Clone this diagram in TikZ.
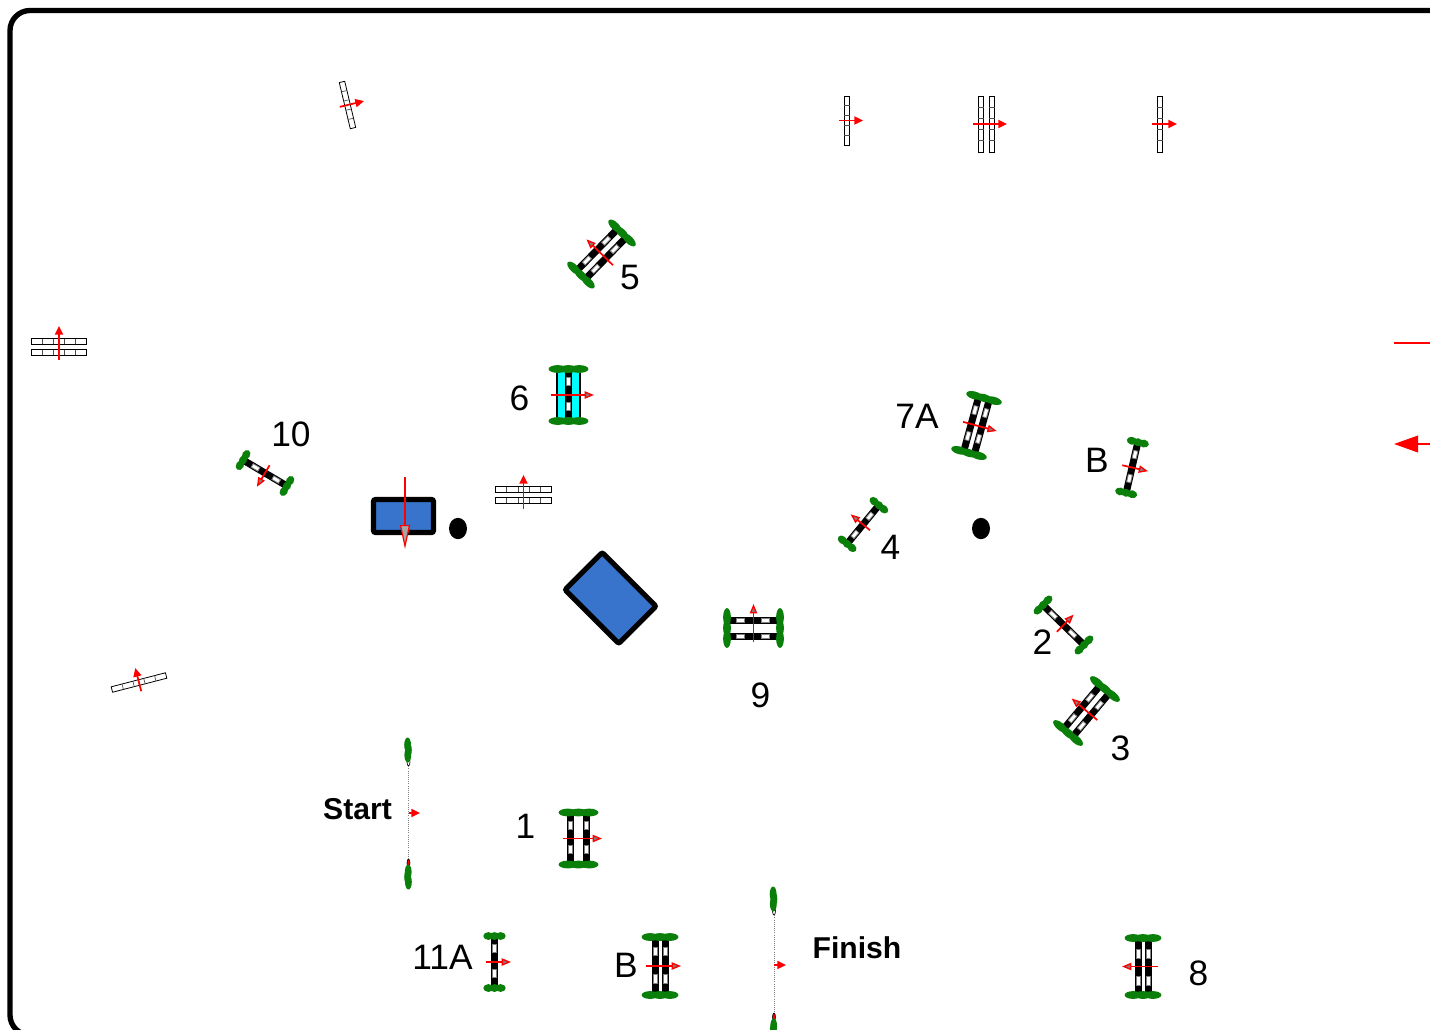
\documentclass[tikz,border=0pt]{standalone}
\usepackage{fontspec}
\setmainfont{Liberation Sans}
\usetikzlibrary{arrows.meta, shapes.geometric}
\definecolor{cwing}{HTML}{0A7F0A}
\definecolor{ctable}{HTML}{3874CB}
\definecolor{cred}{HTML}{FF0000}
\definecolor{ccyan}{HTML}{00FFFF}
\tikzset{
  every picture/.style={x=0.75pt, y=-0.75pt},
  numlabel/.style={font=\fontsize{26.5}{30}\selectfont, inner sep=0pt},
  gatelabel/.style={font=\fontsize{22.6}{26}\selectfont\bfseries, inner sep=0pt},
  dirarrow/.style={draw=cred, line width=1.3pt, -{Triangle[length=7pt, width=5.5pt, line width=1pt, fill=gray]}},
  plainarrow/.style={draw=cred, line width=1.3pt, -{Triangle[length=6.5pt, width=6pt, fill=cred]}},
  tablebox/.style={draw=black, fill=ctable, line width=3.9pt, rounded corners=1.5pt, minimum width=#1, inner sep=0pt},
  tunnelmark/.style={ellipse, fill=black, minimum width=13.5pt, minimum height=16pt, inner sep=0pt},
  postmark/.style={ellipse, draw=black, line width=.5pt, fill=#1, minimum width=2.2pt, minimum height=6pt, inner sep=0pt},
}
% one striped pole: offset, half length
\newcommand{\polebar}[2]{
  \fill[black] ({#1-3.5},{-#2}) rectangle ({#1+3.5},{#2});
  \draw[fill=white, draw=gray, line width=.6pt] ({#1-2},{-.62*#2}) rectangle ({#1+2},{-.32*#2});
  \draw[fill=white, draw=gray, line width=.6pt] ({#1-2},{.32*#2}) rectangle ({#1+2},{.62*#2});
}
% name, centre, rotation, half length, pole offsets, wing half width, arrow back, arrow front
\newcommand{\hurdle}[8]{
  \begin{scope}[shift={(#2)}, rotate=#3]
    \foreach \dx in {#5} {\polebar{\dx}{#4-1}}
    \foreach \wx in {-1,0,1} {
      \fill[cwing] ({\wx*.55*#6},{-#4}) ellipse ({.47*#6} and 3.9);
      \fill[cwing] ({\wx*.55*#6},{#4}) ellipse ({.47*#6} and 3.9);
    }
    \coordinate (#1-back) at (-#7,0);
    \coordinate (#1-front) at (#8,0);
    \draw[dirarrow] (#1-back) -- (#1-front);
  \end{scope}
}
% planned position: outlined pole only
\newcommand{\sketchbar}[7]{
  \begin{scope}[shift={(#2)}, rotate=#3]
    \foreach \dx in {#5} {
      \draw[black, line width=.6pt] ({\dx-2.8},{-#4}) rectangle ({\dx+2.8},{#4});
      \foreach \k in {-.6,-.2,.2,.6}
        \draw[black!70, line width=.5pt] ({\dx-2.8},{\k*#4}) -- ({\dx+2.8},{\k*#4});
    }
    \coordinate (#1-back) at (-#6,0);
    \coordinate (#1-front) at (#7,0);
    \draw[plainarrow] (#1-back) -- (#1-front);
  \end{scope}
}
% start and finish line: name, x, top post y, bottom post y
\newcommand{\gateline}[4]{
  \node[postmark=white] (#1-top) at (#2,#3) {};
  \node[postmark=cred] (#1-bot) at (#2,#4) {};
  \draw[gray, line width=.6pt, densely dotted] (#1-top) -- (#1-bot);
  \foreach \k/\s in {-1/-.4,0/.4,1/-.2} {
    \fill[cwing] ({#2-.5+\s},{#3-12+5*\k}) ellipse (3.4 and 7.5);
    \fill[cwing] ({#2-.5-\s},{#4+14-5*\k}) ellipse (3.4 and 7.5);
  }
}
\begin{document}
\begin{tikzpicture}
  \useasboundingbox (0,0) rectangle (1430,1029);
  \clip (0,0) rectangle (1430,1029);
  \draw[black, line width=4pt, rounded corners=15pt] (10,10.5) rectangle (1500,1035);

  % planned poles
  \sketchbar{plana}{347.5,105}{13.4}{23.7}{0}{8}{17}
  \sketchbar{planb}{847,120.5}{0}{24.5}{0}{8}{16}
  \sketchbar{planc}{986.5,124}{0}{28}{-5.5,5.5}{13.5}{20.5}
  \sketchbar{pland}{1160,124}{0}{28}{0}{8}{17}
  \sketchbar{plane}{59,347}{90}{27.5}{-5.5,5.5}{13}{21}
  \sketchbar{planf}{523.5,495}{90}{28}{-5.5,5.5}{14}{20}
  \sketchbar{plang}{139,682.5}{104.5}{28}{0}{9}{15}

  % numbered obstacles
  \hurdle{one}{578.5,838.5}{0}{26}{-8,8}{19.5}{15.5}{23.5}
  \hurdle{two}{1063.5,625}{45.7}{28.6}{0}{12}{9.5}{14.5}
  \hurdle{three}{1086.5,711}{140}{28.7}{-6,6}{18.5}{14}{19.5}
  \hurdle{four}{863,524.5}{140.6}{25}{0}{11}{9}{16}
  \hurdle{five}{601.5,254}{135.7}{29.4}{-6,6}{18}{16}{21}
  \fill[ccyan] (557,371) rectangle (580,419);
  \draw[black, line width=.8pt] (557,371) -- (557,419) (580,371) -- (580,419);
  \hurdle{six}{568.5,395}{0}{26}{0}{19.5}{17.5}{25.5}
  \hurdle{seven}{976.5,425.5}{-15.3}{28.5}{-5.5,5.5}{18}{14}{21}
  \hurdle{bup}{1132,467.5}{-13}{26}{0}{11}{10}{16.5}
  \hurdle{eight}{1143,966.5}{180}{28.5}{-5,5}{18}{15}{21}
  \hurdle{nine}{753.5,628}{90}{26.5}{-8,8}{19.5}{14}{24}
  \hurdle{ten}{265,473}{239.4}{25.5}{0}{11}{9}{16}
  \hurdle{eleven}{494.5,962}{0}{26}{0}{11}{8.5}{16.5}
  \hurdle{bdown}{660,966}{0}{29}{-5,5}{18}{14}{21}

  % tables and tunnel marks
  \node[tablebox=45pt, minimum height=24.75pt] (tablea) at (403.5,516) {};
  \node[tablebox=57pt, minimum height=39.5pt, rotate=-45] (tableb) at (610.5,598) {};
  \coordinate (tablea-back) at (405,477);
  \coordinate (tablea-front) at (405,549);
  \draw[draw=cred, line width=1.1pt, -{Triangle[length=18pt, width=7.5pt, line width=.9pt, fill=gray!70]}] (tablea-back) -- (tablea-front);
  \node[tunnelmark] (marka) at (458,528.5) {};
  \node[tunnelmark] (markb) at (981,528.5) {};

  % start and finish
  \gateline{start}{408.5}{762}{863}
  \coordinate (start-back) at (408.5,813);
  \coordinate (start-front) at (420,813);
  \draw[plainarrow] (start-back) -- (start-front);
  \gateline{finish}{774}{911}{1017}
  \coordinate (finish-back) at (774,965);
  \coordinate (finish-front) at (786,965);
  \draw[plainarrow] (finish-back) -- (finish-front);

  % red marks at the right edge
  \coordinate (edgea) at (1394,343);
  \coordinate (edgeb) at (1440,343);
  \draw[cred, line width=1.1pt] (edgea) -- (edgeb);
  \coordinate (edgec) at (1440,444);
  \coordinate (edged) at (1394,444);
  \draw[cred, line width=1.3pt, -{Triangle[length=18pt, width=12.5pt, fill=cred]}] (edgec) -- (edged);

  % labels
  \node[numlabel] (lbla) at (525.5,826.5) {1};
  \node[numlabel] (lblb) at (1042.5,642.5) {2};
  \node[numlabel] (lblc) at (1120.5,748.5) {3};
  \node[numlabel] (lbld) at (890.5,547.5) {4};
  \node[numlabel] (lble) at (630,277.5) {5};
  \node[numlabel] (lblf) at (519.5,398.5) {6};
  \node[numlabel] (lblg) at (917,416.5) {7A};
  \node[numlabel] (lblh) at (1097,460.5) {B};
  \node[numlabel] (lbli) at (1198.5,973.5) {8};
  \node[numlabel] (lblj) at (760.5,695.5) {9};
  \node[numlabel] (lblk) at (291,434.5) {10};
  \node[numlabel] (lbll) at (442.5,957.5) {11A};
  \node[numlabel] (lblm) at (626,965.5) {B};
  \node[gatelabel] (lblstart) at (357.5,809) {Start};
  \node[gatelabel] (lblfinish) at (857,947.5) {Finish};
\end{tikzpicture}
\end{document}
